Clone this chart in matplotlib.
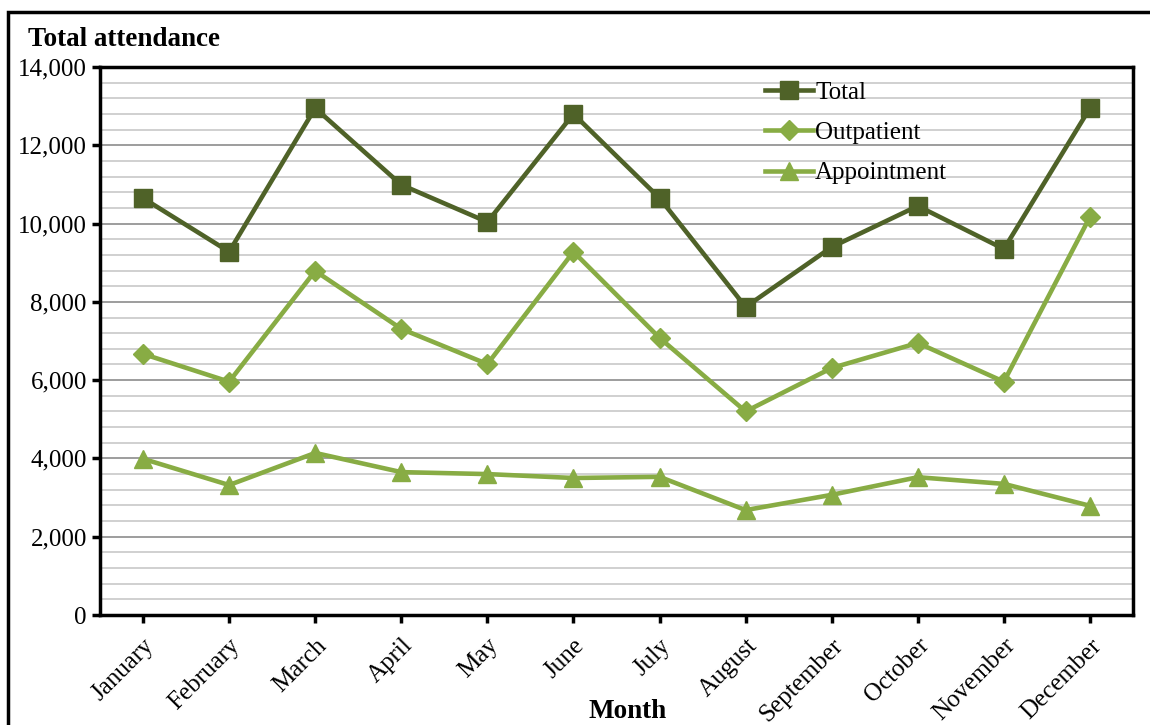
import matplotlib
matplotlib.use("Agg")
import matplotlib.pyplot as plt
from matplotlib.ticker import MultipleLocator, FuncFormatter
from matplotlib.patches import Rectangle

months = ["January", "February", "March", "April", "May", "June", "July",
          "August", "September", "October", "November", "December"]
total = [10650, 9280, 12950, 10990, 10040, 12800, 10650, 7870, 9400, 10450, 9350, 12950]
outpatient = [6670, 5960, 8790, 7310, 6410, 9280, 7080, 5200, 6310, 6950, 5960, 10170]
appointment = [3990, 3320, 4140, 3650, 3600, 3500, 3530, 2680, 3070, 3520, 3350, 2790]

plt.rcParams['font.family'] = ['Liberation Serif', 'DejaVu Serif']

fig = plt.figure(figsize=(11.5, 7.25), dpi=100)
ax = fig.add_axes([100/1150, 1-615/725, 1033/1150, 548/725])

dark = "#4F6228"
light = "#88AC44"
x = list(range(len(months)))
ax.plot(x, total, color=dark, lw=3.3, marker='s', ms=13, label="Total", zorder=5)
ax.plot(x, outpatient, color=light, lw=3.3, marker='D', ms=10.5, label="Outpatient", zorder=4)
ax.plot(x, appointment, color=light, lw=3.3, marker='^', ms=13.5, label="Appointment", zorder=4)

ax.set_xlim(-0.5, 11.5)
ax.set_ylim(0, 14000)
ax.yaxis.set_major_locator(MultipleLocator(2000))
ax.yaxis.set_minor_locator(MultipleLocator(400))
ax.yaxis.set_major_formatter(FuncFormatter(lambda v, p: f"{int(v):,}"))
ax.grid(True, which='major', axis='y', color='#8c8c8c', lw=1.2, zorder=0)
ax.grid(True, which='minor', axis='y', color='#c8c8c8', lw=1.2, zorder=0)
ax.set_axisbelow(True)
ax.tick_params(axis='y', which='minor', length=0)
ax.tick_params(axis='both', which='major', direction='out', length=6, width=2.5,
               labelsize=18, color='black')
ax.tick_params(axis='x', pad=8)
ax.set_xticks(x)
ax.set_xticklabels(months, rotation=45, ha='right', rotation_mode='anchor')
for s in ax.spines.values():
    s.set_linewidth(2.5)

fig.text(28/1150, 1-39/725, "Total attendance", fontsize=19.5,
         fontweight='bold', ha='left', va='center')
fig.text(628/1150, 1-711/725, "Month", fontsize=19.5, fontweight='bold', ha='center', va='center')

leg = ax.legend(loc='upper left', bbox_to_anchor=(0.622, 1.015), frameon=False,
                fontsize=18, handlelength=1.9, handletextpad=0.1, labelspacing=0.71)

fig.patches.append(Rectangle((8/1150, -0.05), 1.2, 1-12/725 + 0.05, transform=fig.transFigure,
                             fill=False, edgecolor='black', lw=2.5))

fig.savefig("out.png", dpi=100)
